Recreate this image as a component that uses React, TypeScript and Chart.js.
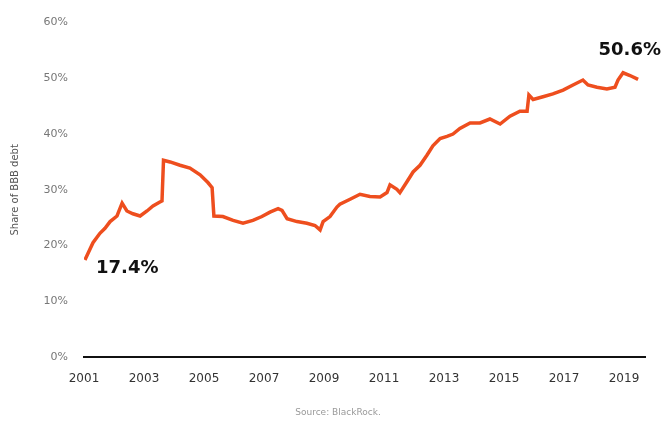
import React, { useEffect, useRef } from "react";
import { Chart, registerables } from "chart.js";

Chart.register(...registerables);

const dates = [
  2001.03, 2001.3, 2001.53, 2001.7, 2001.87, 2002.1, 2002.27, 2002.43, 2002.63, 2002.87,
  2003.1, 2003.3, 2003.53, 2003.6, 2003.65, 2003.87, 2004.2, 2004.53, 2004.87, 2005.13,
  2005.27, 2005.33, 2005.63, 2005.97, 2006.3, 2006.63, 2006.93, 2007.2, 2007.47, 2007.6,
  2007.77, 2008.1, 2008.43, 2008.7, 2008.87, 2008.97, 2009.2, 2009.43, 2009.53, 2009.87,
  2010.2, 2010.53, 2010.87, 2011.1, 2011.2, 2011.43, 2011.53, 2011.77, 2011.97, 2012.2,
  2012.43, 2012.63, 2012.87, 2013.1, 2013.3, 2013.53, 2013.87, 2014.2, 2014.53, 2014.87,
  2015.2, 2015.53, 2015.77, 2015.83, 2015.97, 2016.3, 2016.63, 2016.97, 2017.3, 2017.63,
  2017.8, 2018.1, 2018.43, 2018.7, 2018.8, 2018.97, 2019.2, 2019.47,
];
const shares = [
  17.4, 20.5, 22.2, 23.1, 24.3, 25.3, 27.6, 26.2, 25.7, 25.3,
  26.2, 27.1, 27.8, 28.0, 35.3, 35.0, 34.4, 33.9, 32.7, 31.3,
  30.4, 25.3, 25.2, 24.5, 24.0, 24.5, 25.2, 26.0, 26.6, 26.3,
  24.8, 24.3, 24.0, 23.6, 22.8, 24.3, 25.2, 26.9, 27.4, 28.3,
  29.2, 28.8, 28.7, 29.5, 30.9, 30.1, 29.5, 31.5, 33.2, 34.4,
  36.2, 37.9, 39.2, 39.6, 40.0, 41.0, 42.0, 42.0, 42.7, 41.8,
  43.2, 44.1, 44.1, 47.0, 46.2, 46.7, 47.2, 47.9, 48.8, 49.7,
  48.8, 48.4, 48.1, 48.4, 49.7, 51.0, 50.5, 49.8,
];
const yearTicks = [2001, 2003, 2005, 2007, 2009, 2011, 2013, 2015, 2017, 2019];
const yTicks = [0, 10, 20, 30, 40, 50, 60];
const startLabel = "17.4%";
const endLabel = "50.6%";
const sourceText = "Source: BlackRock.";
const yTitle = "Share of BBB debt";

const LINE = "#EE4E1E";

const annotationPlugin = {
  id: "annots",
  afterDraw(chart: any) {
    const { ctx } = chart;
    ctx.save();
    ctx.fillStyle = "#111";
    ctx.font = "bold 18px 'DejaVu Sans'";
    ctx.textBaseline = "middle";
    ctx.textAlign = "left";
    ctx.fillText(startLabel, 96, 268);
    ctx.textAlign = "right";
    ctx.fillText(endLabel, 661, 50);
    ctx.fillStyle = "#999";
    ctx.font = "9px 'DejaVu Sans'";
    ctx.textAlign = "center";
    ctx.fillText(sourceText, 338, 413);
    ctx.restore();
  },
};

export default function App() {
  const ref = useRef<HTMLCanvasElement | null>(null);
  useEffect(() => {
    if (!ref.current) return;
    const chart = new Chart(ref.current, {
      type: "line",
      data: {
        datasets: [
          {
            data: dates.map((d, i) => ({ x: d, y: shares[i] })),
            borderColor: LINE,
            borderWidth: 3.5,
            pointRadius: 0,
            tension: 0,
            fill: false,
          },
        ],
      },
      options: {
        animation: false,
        responsive: false,
        events: [],
        layout: { padding: { top: 15, right: 17, left: 0, bottom: 0 } },
        plugins: { legend: { display: false }, tooltip: { enabled: false } },
        scales: {
          x: {
            type: "linear",
            min: 2001,
            max: 2019.7,
            grid: { display: false, drawTicks: false },
            border: { display: true, color: "#111", width: 2 },
            afterBuildTicks: (s: any) => {
              s.ticks = yearTicks.map((v) => ({ value: v }));
            },
            afterFit: (s: any) => {
              s.height = 66;
            },
            ticks: {
              autoSkip: false,
              maxRotation: 0,
              padding: 15,
              color: "#333",
              font: { size: 12, family: "'DejaVu Sans'" },
              callback: (v: any) => String(v),
            },
          },
          y: {
            min: 0,
            max: 60,
            grid: { display: false, drawTicks: false },
            border: { display: false },
            afterBuildTicks: (s: any) => {
              s.ticks = yTicks.map((v) => ({ value: v }));
            },
            afterFit: (s: any) => {
              s.width = 84;
            },
            title: {
              display: true,
              text: yTitle,
              color: "#555",
              font: { size: 10, family: "'DejaVu Sans'" },
              padding: { top: 9, bottom: 0 },
            },
            ticks: {
              padding: 16,
              color: "#777",
              font: { size: 11, family: "'DejaVu Sans'" },
              callback: (v: any) => v + "%",
            },
          },
        },
      },
      plugins: [annotationPlugin],
    });
    return () => chart.destroy();
  }, []);
  return (
    <div style={{ position: "fixed", left: 0, top: 0, width: 662, height: 423, background: "#fff" }}>
      <canvas ref={ref} width={662} height={423} style={{ width: 662, height: 423 }} />
    </div>
  );
}
